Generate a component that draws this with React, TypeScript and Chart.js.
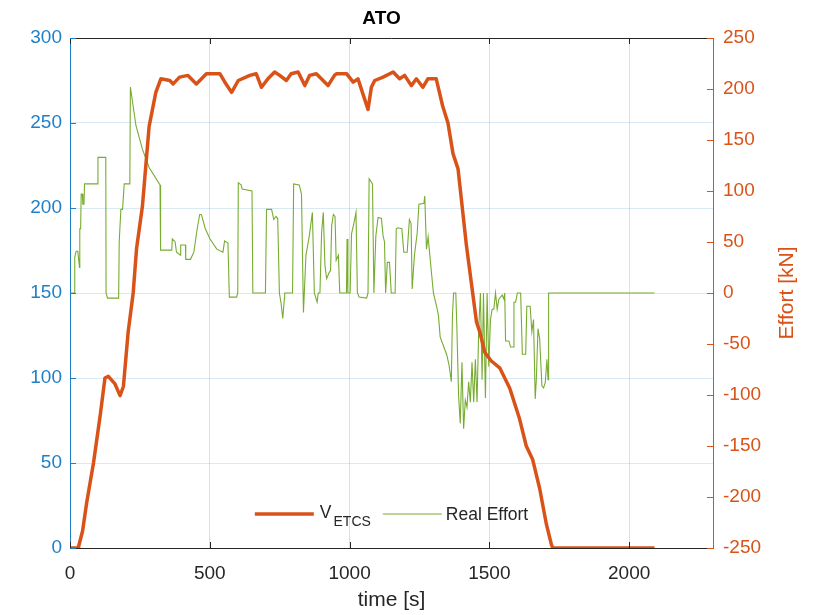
import React, { useEffect, useRef } from 'react';
import { Chart, registerables } from 'chart.js';

Chart.register(...registerables);

// ---- data ----
const velTime = [0, 29, 31, 45, 60, 84, 108, 125, 137, 161, 179, 191, 208, 226, 238, 259, 283, 307, 325, 357, 369, 392, 422, 452, 488, 536, 554, 578, 602, 643, 666, 685, 708, 732, 750, 774, 791, 816, 840, 857, 881, 899, 923, 946, 953, 989, 1013, 1030, 1048, 1066, 1078, 1090, 1120, 1156, 1179, 1197, 1221, 1239, 1262, 1280, 1310, 1333, 1352, 1370, 1388, 1418, 1454, 1466, 1484, 1507, 1537, 1573, 1608, 1632, 1655, 1680, 1704, 1722, 1727, 2091];
const velValue = [0, 0, 1, 10, 27, 50, 78, 100, 101, 96.5, 89.6, 95, 127, 150, 176, 201, 248, 268, 276, 275, 273, 277, 278, 273, 279, 279, 274, 268, 275, 278, 279, 271, 276, 280, 278, 275, 279, 280, 272, 278, 279, 276, 272, 278, 279, 279, 274, 276, 267, 258, 271, 275, 277, 280, 276, 278, 272, 276, 271, 276, 276, 260, 250, 232, 223, 178, 133, 127, 115, 110, 106, 94, 76, 60, 52, 35, 14, 2, 0, 0];

const effTime = [
  4, 16, 17, 22, 28, 34, 35, 38, 40, 44,
  46, 50, 52, 99, 100, 128, 129, 134, 174, 176,
  182, 188, 194, 214, 216, 236, 259, 283, 322, 324,
  364, 366, 376, 381, 395, 396, 413, 414, 431, 443,
  455, 464, 470, 484, 501, 525, 547, 553, 565, 570,
  596, 600, 602, 612, 616, 651, 654, 699, 703, 721,
  729, 737, 743, 749, 755, 761, 767, 768, 796, 800,
  820, 828, 835, 844, 856, 867, 874, 884, 888, 894,
  900, 906, 912, 918, 927, 932, 936, 942, 948, 952,
  960, 965, 989, 991, 994, 1002, 1007, 1016, 1023, 1028,
  1034, 1061, 1066, 1070, 1082, 1087, 1094, 1102, 1114, 1120,
  1125, 1129, 1135, 1143, 1149, 1163, 1167, 1173, 1187, 1194,
  1206, 1214, 1220, 1224, 1232, 1242, 1248, 1266, 1269, 1275,
  1281, 1285, 1295, 1300, 1312, 1318, 1324, 1336, 1348, 1356,
  1364, 1368, 1372, 1380, 1384, 1390, 1396, 1402, 1408, 1414,
  1420, 1426, 1432, 1438, 1444, 1450, 1456, 1462, 1468, 1474,
  1479, 1486, 1492, 1498, 1504, 1510, 1516, 1522, 1528, 1534,
  1546, 1552, 1555, 1558, 1570, 1576, 1585, 1588, 1594, 1600,
  1612, 1618, 1630, 1634, 1646, 1652, 1658, 1664, 1668, 1674,
  1680, 1688, 1694, 1700, 1706, 1710, 1712, 2091,
];
const effValue = [
  0, 0, 35, 41, 41, 25, 63, 63, 97, 97,
  87, 87, 107, 107, 133, 133, 0, -5, -5, 50,
  82, 82, 107, 107, 202, 164, 141, 123, 106, 42,
  42, 53, 50, 40, 37, 47, 47, 33, 33, 40,
  63, 77, 77, 63, 53, 43, 40, 51, 49, -4,
  -4, 0, 108, 106, 102, 100, 0, 0, 82, 82,
  72, 75, 73, 0, -10, -25, -5, 0, 0, 107,
  106, 97, -19, 37, 56, 79, 0, -9, 0, 0,
  59, 79, 27, 14, 20, 22, 66, 77, 75, 32,
  37, 0, 0, 53, 0, 0, 58, 69, 79, 0,
  -4, -5, 0, 112, 107, 0, 56, 74, 73, 56,
  50, 0, 30, 30, 0, 0, 63, 64, 63, 40,
  40, 72, 68, 4, 37, 59, 87, 88, 95, 43,
  55, 43, 14, 0, -14, -22, -43, -52, -61, -71,
  -87, -22, 0, 0, -35, -101, -128, -68, -133, -105,
  -112, -87, -107, -68, -107, -65, -107, -35, 0, -85,
  0, -103, 0, -72, -26, -16, -16, 0, -16, -6,
  -2, -6, 0, -47, -47, -53, -53, -9, -9, 0,
  0, -60, -60, -13, -13, -38, -26, -104, -85, -35,
  -45, -91, -93, -88, -65, -85, 0, 0,
];

const xTicks = [0, 500, 1000, 1500, 2000];
const leftTicks = [0, 50, 100, 150, 200, 250, 300];
const rightTicks = [-250, -200, -150, -100, -50, 0, 50, 100, 150, 200, 250];

const titleText = 'ATO';
const xLabel = 'time [s]';
const rightLabel = 'Effort [kN]';
const velLabel = 'V_ETCS';
const effLabel = 'Real Effort';

// ---- style ----
const FONT = '"Liberation Sans", Arial, Helvetica, sans-serif';
const BLUE_AXIS = '#1f80c8';
const ORANGE_AXIS = '#d95319';
const ORANGE_LINE = '#d95319';
const GREEN_LINE = '#77ac30';
const DARK = '#262626';

const plainLabel = (v: any) => String(v);

const matlabPlugin = {
  id: 'matlabDecor',
  afterDraw(chart: any) {
    const ctx = chart.ctx as CanvasRenderingContext2D;
    const ca = chart.chartArea;
    const xs = chart.scales.x;
    const ys = chart.scales.y;
    const y2 = chart.scales.y2;
    ctx.save();

    // top border
    ctx.strokeStyle = DARK;
    ctx.lineWidth = 1;
    ctx.beginPath();
    ctx.moveTo(ca.left, ca.top + 0.5);
    ctx.lineTo(ca.right, ca.top + 0.5);
    ctx.stroke();

    // inward ticks
    const tl = 6;
    ctx.strokeStyle = DARK;
    xTicks.forEach((v) => {
      const px = Math.round(xs.getPixelForValue(v)) + 0.5;
      ctx.beginPath();
      ctx.moveTo(px, ca.top);
      ctx.lineTo(px, ca.top + tl);
      ctx.moveTo(px, ca.bottom);
      ctx.lineTo(px, ca.bottom - tl);
      ctx.stroke();
    });
    ctx.strokeStyle = BLUE_AXIS;
    leftTicks.forEach((v) => {
      const py = Math.round(ys.getPixelForValue(v)) + 0.5;
      ctx.beginPath();
      ctx.moveTo(ca.left, py);
      ctx.lineTo(ca.left + tl, py);
      ctx.stroke();
    });
    ctx.strokeStyle = ORANGE_AXIS;
    rightTicks.forEach((v) => {
      const py = Math.round(y2.getPixelForValue(v)) + 0.5;
      ctx.beginPath();
      ctx.moveTo(ca.right, py);
      ctx.lineTo(ca.right - tl, py);
      ctx.stroke();
    });

    // title
    ctx.fillStyle = '#000';
    ctx.font = `bold 19px ${FONT}`;
    ctx.textAlign = 'center';
    ctx.textBaseline = 'middle';
    ctx.fillText(titleText, (ca.left + ca.right) / 2 - 10, ca.top - 19);

    // x label
    ctx.fillStyle = DARK;
    ctx.font = `21px ${FONT}`;
    ctx.fillText(xLabel, (ca.left + ca.right) / 2, ca.bottom + 52);

    // right label
    ctx.save();
    ctx.translate(ca.right + 74, (ca.top + ca.bottom) / 2);
    ctx.rotate(-Math.PI / 2);
    ctx.fillStyle = ORANGE_AXIS;
    ctx.font = `21px ${FONT}`;
    ctx.fillText(rightLabel, 0, 0);
    ctx.restore();

    // legend
    const ds = chart.data.datasets;
    const lineLen = 59;
    const ly = ca.bottom - 34;
    const mainFont = `17.5px ${FONT}`;
    const subFont = `14px ${FONT}`;
    const parts = String(ds[0].label).split('_');
    ctx.font = mainFont;
    const vW = ctx.measureText(parts[0]).width;
    ctx.font = subFont;
    const sW = ctx.measureText(parts[1] || '').width;
    ctx.font = mainFont;
    const rW = ctx.measureText(String(ds[1].label)).width;
    const total = lineLen + 6 + vW + 2 + sW + 12 + lineLen + 4 + rW;
    let x = (ca.left + ca.right) / 2 - total / 2;

    ctx.lineCap = 'butt';
    ctx.strokeStyle = ds[0].borderColor;
    ctx.lineWidth = ds[0].borderWidth;
    ctx.beginPath();
    ctx.moveTo(x, ly);
    ctx.lineTo(x + lineLen, ly);
    ctx.stroke();
    x += lineLen + 6;
    ctx.textAlign = 'left';
    ctx.textBaseline = 'alphabetic';
    ctx.fillStyle = DARK;
    ctx.font = mainFont;
    ctx.fillText(parts[0], x, ly + 4);
    x += vW + 2;
    ctx.font = subFont;
    ctx.fillText(parts[1] || '', x, ly + 12);
    x += sW + 12;

    ctx.strokeStyle = ds[1].borderColor;
    ctx.lineWidth = ds[1].borderWidth;
    ctx.beginPath();
    ctx.moveTo(x, ly);
    ctx.lineTo(x + lineLen, ly);
    ctx.stroke();
    x += lineLen + 4;
    ctx.font = mainFont;
    ctx.textBaseline = 'middle';
    ctx.fillText(String(ds[1].label), x, ly + 1);

    ctx.restore();
  },
};

export default function App() {
  const ref = useRef<HTMLCanvasElement | null>(null);

  useEffect(() => {
    document.body.style.margin = '0';
    if (!ref.current) return;
    const chart = new Chart(ref.current, {
      type: 'line',
      data: {
        datasets: [
          {
            label: velLabel,
            data: velTime.map((t, i) => ({ x: t, y: velValue[i] })),
            borderColor: ORANGE_LINE,
            backgroundColor: ORANGE_LINE,
            borderWidth: 3.5,
            pointRadius: 0,
            tension: 0,
            yAxisID: 'y',
            borderJoinStyle: 'round',
          },
          {
            label: effLabel,
            data: effTime.map((t, i) => ({ x: t, y: effValue[i] })),
            borderColor: GREEN_LINE,
            backgroundColor: GREEN_LINE,
            borderWidth: 1.1,
            pointRadius: 0,
            tension: 0,
            yAxisID: 'y2',
          },
        ],
      },
      options: {
        responsive: false,
        animation: false,
        devicePixelRatio: 1,
        layout: { padding: { top: 38, left: 0, right: 0, bottom: 0 } },
        plugins: {
          legend: { display: false },
          title: { display: false },
          tooltip: { enabled: false },
        },
        scales: {
          x: {
            type: 'linear',
            min: 0,
            max: 2300,
            afterBuildTicks: (s: any) => {
              s.ticks = xTicks.map((v) => ({ value: v }));
            },
            afterFit: (s: any) => {
              s.height = 67;
            },
            ticks: {
              color: DARK,
              font: { family: FONT, size: 19 },
              padding: 14,
              maxRotation: 0,
              callback: plainLabel,
            },
            grid: { color: 'rgba(38,38,38,0.15)', drawTicks: false },
            border: { color: DARK, width: 1 },
          },
          y: {
            type: 'linear',
            position: 'left',
            min: 0,
            max: 300,
            afterBuildTicks: (s: any) => {
              s.ticks = leftTicks.map((v) => ({ value: v }));
            },
            afterFit: (s: any) => {
              s.width = 70;
            },
            ticks: {
              color: BLUE_AXIS,
              font: { family: FONT, size: 19 },
              padding: 8,
              callback: plainLabel,
            },
            grid: { color: 'rgba(0,114,189,0.15)', drawTicks: false },
            border: { color: BLUE_AXIS, width: 1 },
          },
          y2: {
            type: 'linear',
            position: 'right',
            min: -250,
            max: 250,
            afterBuildTicks: (s: any) => {
              s.ticks = rightTicks.map((v) => ({ value: v }));
            },
            afterFit: (s: any) => {
              s.width = 105;
            },
            ticks: {
              color: ORANGE_AXIS,
              font: { family: FONT, size: 19 },
              padding: 10,
              callback: plainLabel,
            },
            grid: { display: false, drawTicks: false },
            border: { color: ORANGE_AXIS, width: 1 },
          },
        },
      },
      plugins: [matlabPlugin],
    } as any);
    return () => chart.destroy();
  }, []);

  return (
    <div style={{ width: 818, height: 615, background: '#fff' }}>
      <canvas ref={ref} width={818} height={615} style={{ display: 'block' }} />
    </div>
  );
}
